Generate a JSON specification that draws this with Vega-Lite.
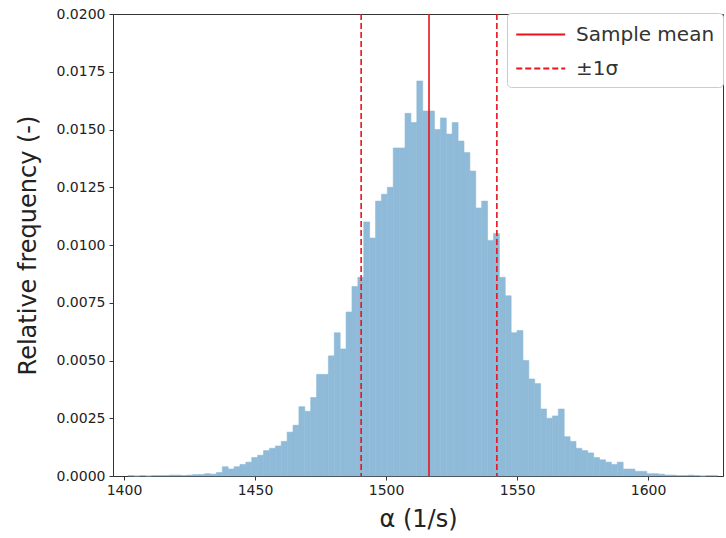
{
  "$schema": "https://vega.github.io/schema/vega-lite/v6.json",
  "width": 610,
  "height": 462,
  "autosize": {"type": "none"},
  "padding": {"left": 113, "top": 14, "right": 3, "bottom": 62},
  "background": "white",
  "config": {
    "font": "DejaVu Sans",
    "view": {"stroke": "#333", "strokeWidth": 1},
    "axis": {"domainColor": "#333", "tickColor": "#333", "labelColor": "#222", "titleColor": "#222", "grid": false, "labelFont": "DejaVu Sans", "titleFont": "DejaVu Sans", "titleFontWeight": "normal"}
  },
  "datasets": {
    "hist": [
      {"lo": 1401.5, "hi": 1403.75, "f": 0.00002},
      {"lo": 1403.75, "hi": 1406, "f": 0},
      {"lo": 1406, "hi": 1408.25, "f": 0.00002},
      {"lo": 1408.25, "hi": 1410.5, "f": 0},
      {"lo": 1410.5, "hi": 1412.75, "f": 0.00002},
      {"lo": 1412.75, "hi": 1415, "f": 0.00002},
      {"lo": 1415, "hi": 1417.25, "f": 0.00002},
      {"lo": 1417.25, "hi": 1419.5, "f": 0.00004},
      {"lo": 1419.5, "hi": 1421.75, "f": 0.00004},
      {"lo": 1421.75, "hi": 1424, "f": 0.00002},
      {"lo": 1424, "hi": 1426.25, "f": 0.00004},
      {"lo": 1426.25, "hi": 1428.5, "f": 0.00006},
      {"lo": 1428.5, "hi": 1430.75, "f": 0.00006},
      {"lo": 1430.75, "hi": 1433, "f": 0.0001},
      {"lo": 1433, "hi": 1435.25, "f": 0.00008},
      {"lo": 1435.25, "hi": 1437.5, "f": 0.00015},
      {"lo": 1437.5, "hi": 1439.75, "f": 0.0004},
      {"lo": 1439.75, "hi": 1442, "f": 0.0003},
      {"lo": 1442, "hi": 1444.25, "f": 0.0004},
      {"lo": 1444.25, "hi": 1446.5, "f": 0.0005},
      {"lo": 1446.5, "hi": 1448.75, "f": 0.0006},
      {"lo": 1448.75, "hi": 1451, "f": 0.0008},
      {"lo": 1451, "hi": 1453.25, "f": 0.0009},
      {"lo": 1453.25, "hi": 1455.5, "f": 0.0011},
      {"lo": 1455.5, "hi": 1457.75, "f": 0.0012},
      {"lo": 1457.75, "hi": 1460, "f": 0.0013},
      {"lo": 1460, "hi": 1462.25, "f": 0.0015},
      {"lo": 1462.25, "hi": 1464.5, "f": 0.0019},
      {"lo": 1464.5, "hi": 1466.75, "f": 0.0022},
      {"lo": 1466.75, "hi": 1469, "f": 0.003},
      {"lo": 1469, "hi": 1471.25, "f": 0.0028},
      {"lo": 1471.25, "hi": 1473.5, "f": 0.0034},
      {"lo": 1473.5, "hi": 1475.75, "f": 0.0044},
      {"lo": 1475.75, "hi": 1478, "f": 0.0044},
      {"lo": 1478, "hi": 1480.25, "f": 0.0052},
      {"lo": 1480.25, "hi": 1482.5, "f": 0.0062},
      {"lo": 1482.5, "hi": 1484.75, "f": 0.0055},
      {"lo": 1484.75, "hi": 1487, "f": 0.0071},
      {"lo": 1487, "hi": 1489.25, "f": 0.0082},
      {"lo": 1489.25, "hi": 1491.5, "f": 0.0086},
      {"lo": 1491.5, "hi": 1493.75, "f": 0.011},
      {"lo": 1493.75, "hi": 1496, "f": 0.0103},
      {"lo": 1496, "hi": 1498.25, "f": 0.0119},
      {"lo": 1498.25, "hi": 1500.5, "f": 0.0122},
      {"lo": 1500.5, "hi": 1502.75, "f": 0.0125},
      {"lo": 1502.75, "hi": 1505, "f": 0.0142},
      {"lo": 1505, "hi": 1507.25, "f": 0.0142},
      {"lo": 1507.25, "hi": 1509.5, "f": 0.0157},
      {"lo": 1509.5, "hi": 1511.75, "f": 0.0153},
      {"lo": 1511.75, "hi": 1514, "f": 0.0171},
      {"lo": 1514, "hi": 1516.25, "f": 0.0158},
      {"lo": 1516.25, "hi": 1518.5, "f": 0.0158},
      {"lo": 1518.5, "hi": 1520.75, "f": 0.015},
      {"lo": 1520.75, "hi": 1523, "f": 0.0155},
      {"lo": 1523, "hi": 1525.25, "f": 0.0148},
      {"lo": 1525.25, "hi": 1527.5, "f": 0.0153},
      {"lo": 1527.5, "hi": 1529.75, "f": 0.0145},
      {"lo": 1529.75, "hi": 1532, "f": 0.014},
      {"lo": 1532, "hi": 1534.25, "f": 0.0132},
      {"lo": 1534.25, "hi": 1536.5, "f": 0.0116},
      {"lo": 1536.5, "hi": 1538.75, "f": 0.0119},
      {"lo": 1538.75, "hi": 1541, "f": 0.0102},
      {"lo": 1541, "hi": 1543.25, "f": 0.0105},
      {"lo": 1543.25, "hi": 1545.5, "f": 0.0086},
      {"lo": 1545.5, "hi": 1547.75, "f": 0.0078},
      {"lo": 1547.75, "hi": 1550, "f": 0.0062},
      {"lo": 1550, "hi": 1552.25, "f": 0.0063},
      {"lo": 1552.25, "hi": 1554.5, "f": 0.005},
      {"lo": 1554.5, "hi": 1556.75, "f": 0.0042},
      {"lo": 1556.75, "hi": 1559, "f": 0.004},
      {"lo": 1559, "hi": 1561.25, "f": 0.0029},
      {"lo": 1561.25, "hi": 1563.5, "f": 0.0025},
      {"lo": 1563.5, "hi": 1565.75, "f": 0.0026},
      {"lo": 1565.75, "hi": 1568, "f": 0.0029},
      {"lo": 1568, "hi": 1570.25, "f": 0.0017},
      {"lo": 1570.25, "hi": 1572.5, "f": 0.0015},
      {"lo": 1572.5, "hi": 1574.75, "f": 0.0012},
      {"lo": 1574.75, "hi": 1577, "f": 0.0011},
      {"lo": 1577, "hi": 1579.25, "f": 0.001},
      {"lo": 1579.25, "hi": 1581.5, "f": 0.0008},
      {"lo": 1581.5, "hi": 1583.75, "f": 0.0007},
      {"lo": 1583.75, "hi": 1586, "f": 0.0006},
      {"lo": 1586, "hi": 1588.25, "f": 0.0005},
      {"lo": 1588.25, "hi": 1590.5, "f": 0.0006},
      {"lo": 1590.5, "hi": 1592.75, "f": 0.0003},
      {"lo": 1592.75, "hi": 1595, "f": 0.0003},
      {"lo": 1595, "hi": 1597.25, "f": 0.0002},
      {"lo": 1597.25, "hi": 1599.5, "f": 0.0002},
      {"lo": 1599.5, "hi": 1601.75, "f": 0.0001},
      {"lo": 1601.75, "hi": 1604, "f": 0.0001},
      {"lo": 1604, "hi": 1606.25, "f": 0.00008},
      {"lo": 1606.25, "hi": 1608.5, "f": 0.00004},
      {"lo": 1608.5, "hi": 1610.75, "f": 0.00004},
      {"lo": 1610.75, "hi": 1613, "f": 0.00002},
      {"lo": 1613, "hi": 1615.25, "f": 0.00002},
      {"lo": 1615.25, "hi": 1617.5, "f": 0.00004},
      {"lo": 1617.5, "hi": 1619.75, "f": 0.00002},
      {"lo": 1619.75, "hi": 1622, "f": 0},
      {"lo": 1622, "hi": 1624.25, "f": 0.00002},
      {"lo": 1624.25, "hi": 1626.5, "f": 0.00002}
    ],
    "lines": [
      {"v": 1516.4, "label": "Sample mean"},
      {"v": 1490.5, "label": "±1σ"},
      {"v": 1542.3, "label": "±1σ"}
    ]
  },
  "layer": [
    {
      "data": {"name": "hist"},
      "mark": {"type": "rect", "color": "#8fbbd9", "stroke": "#8fbbd9", "strokeWidth": 0.6},
      "encoding": {
        "x": {
          "field": "lo", "type": "quantitative",
          "scale": {"domain": [1395.8, 1628.6], "nice": false, "zero": false},
          "axis": {"values": [1400, 1450, 1500, 1550, 1600], "format": "d", "labelFontSize": 14, "tickSize": 4, "labelPadding": 3, "title": "α (1/s)", "titleFontSize": 24, "titlePadding": 10}
        },
        "x2": {"field": "hi"},
        "y": {
          "field": "f", "type": "quantitative",
          "scale": {"domain": [0, 0.02], "nice": false},
          "axis": {"values": [0, 0.0025, 0.005, 0.0075, 0.01, 0.0125, 0.015, 0.0175, 0.02], "format": ".4f", "labelFontSize": 14, "tickSize": 4, "labelPadding": 4, "title": "Relative frequency (-)", "titleFontSize": 24, "titlePadding": 16}
        },
        "y2": {"datum": 0}
      }
    },
    {
      "data": {"name": "lines"},
      "mark": {"type": "rule", "strokeWidth": 1.6},
      "encoding": {
        "x": {"field": "v", "type": "quantitative"},
        "color": {
          "field": "label", "type": "nominal",
          "scale": {"domain": ["Sample mean", "±1σ"], "range": ["#e8141c", "#e8141c"]},
          "legend": {"title": null, "orient": "none", "legendX": 394, "legendY": -1, "fillColor": "white", "strokeColor": "#cccccc", "cornerRadius": 4, "padding": 8, "symbolType": "M-1,0H3", "symbolSize": 600, "symbolStrokeWidth": 1.8, "labelFontSize": 20, "labelColor": "#333", "labelOffset": 34, "rowPadding": 10, "labelFont": "DejaVu Sans"}
        },
        "strokeDash": {
          "field": "label", "type": "nominal",
          "scale": {"domain": ["Sample mean", "±1σ"], "range": [[1, 0], [6, 3]]},
          "legend": {"title": null, "orient": "none", "legendX": 394, "legendY": -1, "fillColor": "white", "strokeColor": "#cccccc", "cornerRadius": 4, "padding": 8, "symbolType": "M-1,0H3", "symbolSize": 600, "symbolStrokeWidth": 1.8, "labelFontSize": 20, "labelColor": "#333", "labelOffset": 34, "rowPadding": 10, "labelFont": "DejaVu Sans"}
        }
      }
    }
  ]
}
